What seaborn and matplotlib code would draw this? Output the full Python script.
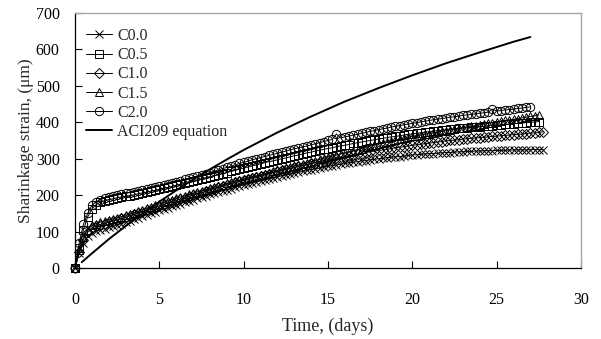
import numpy as np
import matplotlib
matplotlib.use("Agg")
import matplotlib.pyplot as plt
import seaborn as sns

# sampling times of the measured series (days)
days = [
    0, 0.25, 0.5, 0.75, 1, 1.25, 1.5, 1.75, 2, 2.25, 2.5, 2.75, 3, 3.25, 3.5, 3.75,
    4, 4.25, 4.5, 4.75, 5, 5.25, 5.5, 5.75, 6, 6.25, 6.5, 6.75, 7, 7.25, 7.5, 7.75,
    8, 8.25, 8.5, 8.75, 9, 9.25, 9.5, 9.75, 10, 10.25, 10.5, 10.75, 11, 11.25, 11.5, 11.75,
    12, 12.25, 12.5, 12.75, 13, 13.25, 13.5, 13.75, 14, 14.25, 14.5, 14.75, 15, 15.25, 15.5, 15.75,
    16, 16.25, 16.5, 16.75, 17, 17.25, 17.5, 17.75, 18, 18.25, 18.5, 18.75, 19, 19.25, 19.5, 19.75,
    20, 20.25, 20.5, 20.75, 21, 21.25, 21.5, 21.75, 22, 22.25, 22.5, 22.75, 23, 23.25, 23.5, 23.75,
    24, 24.25, 24.5, 24.75, 25, 25.25, 25.5, 25.75, 26, 26.25, 26.5, 26.75, 27, 27.25, 27.5, 27.75,
]

c00 = [
    0, 40, 70, 87, 97, 101, 105, 108, 112, 115, 119, 122, 126, 130, 134, 138,
    142, 146, 150, 154, 158, 162, 166, 169, 173, 177, 181, 184, 188, 192, 195, 199,
    202, 205, 209, 212, 215, 218, 222, 225, 228, 231, 234, 236, 239, 242, 245, 247,
    250, 253, 255, 258, 260, 263, 265, 268, 270, 272, 274, 276, 279, 281, 283, 285,
    287, 289, 290, 292, 294, 295, 297, 298, 300, 301, 303, 304, 305, 306, 307, 309,
    310, 311, 312, 313, 314, 314, 315, 316, 317, 317, 318, 319, 319, 320, 320, 321,
    321, 322, 322, 322, 323, 323, 323, 324, 324, 324, 324, 324, 325, 325, 325, 325,
]

c05 = [
    0, 55, 105, 140, 162, 174, 181, 185, 188, 190, 193, 195, 197, 199, 201, 204,
    206, 208, 211, 213, 216, 219, 221, 224, 227, 230, 232, 235, 238, 241, 244, 247,
    250, 253, 256, 259, 262, 265, 268, 271, 274, 277, 280, 283, 286, 289, 292, 294,
    297, 300, 302, 305, 308, 310, 313, 316, 318, 321, 323, 326, 328, 330, 333, 335,
    337, 339, 342, 344, 346, 348, 350, 352, 354, 356, 358, 360, 361, 363, 365, 367,
    368, 370, 371, 373, 374, 376, 377, 378, 380, 381, 382, 383, 384, 385, 386, 387,
    388, 389, 390, 391, 392, 393, 394, 395, 396, 397, 398, 399, 400, 401, 402,
]

c10 = [
    0, 45, 78, 98, 110, 115, 119, 122, 126, 129, 132, 136, 139, 143, 147, 151,
    155, 158, 162, 166, 170, 174, 178, 181, 185, 189, 193, 196, 200, 204, 207, 211,
    214, 218, 221, 225, 228, 231, 235, 238, 241, 244, 247, 250, 253, 256, 259, 262,
    265, 268, 271, 273, 276, 279, 281, 284, 287, 289, 292, 294, 297, 299, 301, 304,
    306, 308, 310, 312, 314, 317, 319, 321, 323, 324, 326, 328, 330, 332, 333, 335,
    337, 338, 340, 341, 343, 344, 346, 347, 349, 350, 351, 352, 354, 355, 356, 357,
    358, 359, 360, 361, 362, 363, 364, 365, 366, 367, 368, 369, 370, 371, 372, 374,
]

c15 = [
    0, 50, 85, 105, 117, 122, 126, 129, 132, 135, 138, 141, 145, 148, 152, 156,
    160, 164, 168, 172, 176, 180, 184, 188, 191, 195, 198, 202, 205, 209, 212, 215,
    219, 222, 225, 228, 232, 235, 238, 241, 244, 247, 250, 253, 256, 259, 262, 265,
    268, 271, 274, 277, 280, 283, 286, 289, 292, 295, 298, 301, 304, 307, 310, 313,
    316, 319, 322, 325, 328, 331, 334, 337, 340, 343, 346, 349, 351, 354, 356, 359,
    361, 363, 365, 367, 369, 371, 373, 375, 377, 379, 381, 383, 385, 387, 389, 391,
    393, 395, 397, 399, 401, 403, 405, 407, 408, 410, 412, 414, 416, 418, 420,
]

c20 = [
    0, 70, 120, 150, 172, 182, 188, 192, 195, 198, 200, 203, 205, 207, 209, 212,
    214, 217, 219, 222, 225, 228, 231, 234, 237, 240, 243, 246, 249, 252, 256, 259,
    262, 266, 269, 273, 276, 280, 283, 287, 290, 293, 297, 300, 303, 306, 309, 312,
    315, 318, 321, 324, 327, 330, 332, 335, 338, 341, 344, 347, 350, 353, 368, 357,
    360, 362, 365, 367, 370, 372, 375, 377, 380, 382, 384, 387, 389, 391, 393, 395,
    397, 399, 401, 403, 405, 407, 409, 410, 412, 414, 415, 417, 419, 420, 422, 423,
    425, 426, 428, 436, 431, 432, 434, 435, 436, 438, 439, 441, 442,
]

# ACI209 prediction curve
aci_days = [0.4, 1, 2, 3, 4, 5, 6, 7, 8, 9, 10, 12, 14, 16, 18, 20, 22, 24, 26, 27]
aci_vals = [16, 40, 79, 115, 149, 182, 213, 243, 271, 298, 324, 372, 416, 457, 494, 529, 562, 592, 621, 634]

series = [
    ("C0.0", c00, "x"),
    ("C0.5", c05, "s"),
    ("C1.0", c10, "D"),
    ("C1.5", c15, "^"),
    ("C2.0", c20, "o"),
]

sns.set_style("white")
plt.rcParams["font.family"] = ["Liberation Serif", "DejaVu Serif"]
plt.rcParams["font.size"] = 11.5

fig = plt.figure(figsize=(6.01, 3.39), dpi=100)
ax = fig.add_axes([0.1248, 0.2094, 0.9667 - 0.1248, 0.9617 - 0.2094])

for name, vals, mk in series:
    ms = 5.0 if mk == "D" else 6.0
    sns.lineplot(x=days[:len(vals)], y=vals, ax=ax, color="black", lw=0.7,
                 marker=mk, markersize=ms, markerfacecolor="none",
                 markeredgecolor="black", markeredgewidth=0.7,
                 label=name, clip_on=False)

sns.lineplot(x=aci_days, y=aci_vals, ax=ax, color="black", lw=1.4,
             label="ACI209 equation")

ax.set_xlim(0, 30)
ax.set_ylim(0, 700)
ax.set_xticks([0, 5, 10, 15, 20, 25, 30])
ax.set_yticks(range(0, 701, 100))
ax.tick_params(axis="x", direction="in", length=5, width=0.8, pad=17,
               labelsize=11.5, colors="black", bottom=True)
ax.tick_params(axis="y", direction="in", length=5, width=0.8, pad=11,
               labelsize=11.5, colors="black", left=True)
ax.set_xlabel("Time, (days)", fontsize=13, labelpad=7)
ax.set_ylabel("Sharinkage strain, (μm)", fontsize=12.5, labelpad=1.5)

for side in ["left", "bottom"]:
    ax.spines[side].set_color("black")
    ax.spines[side].set_linewidth(0.9)
for side in ["top", "right"]:
    ax.spines[side].set_color("#a6a6a6")
    ax.spines[side].set_linewidth(1.0)

leg = ax.legend(loc="upper left", bbox_to_anchor=(0.0, 0.985), frameon=False,
                fontsize=11.5, handlelength=1.6, handletextpad=0.35,
                labelspacing=0.2, borderaxespad=0.3)
leg.set_zorder(10)

fig.savefig("out.png", dpi=100)
